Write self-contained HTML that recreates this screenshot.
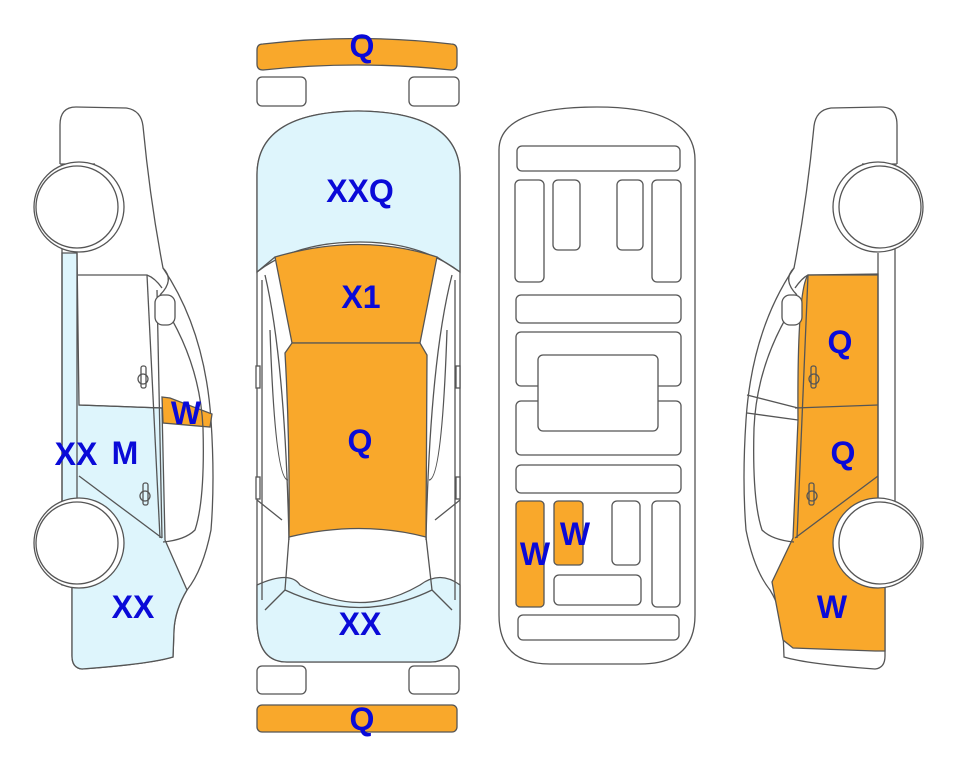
<!DOCTYPE html>
<html><head><meta charset="utf-8"><style>
html,body{margin:0;padding:0;background:#fff;}
svg{display:block;}
text{font-family:"Liberation Sans",sans-serif;font-weight:bold;font-size:32px;fill:#0a0ad8;text-anchor:middle;}
</style></head><body>
<svg width="963" height="768" viewBox="0 0 963 768" xmlns="http://www.w3.org/2000/svg">

<!-- LEFT CAR -->
<g stroke="#555" stroke-width="1.3" fill="none">
  <path d="M60,164 L60,125 Q60,107 76,107 L126,108 Q141,110 143,126 Q150,200 163,268 Q205,330 211,420 Q215,480 211,530 Q203,570 187,590 Q175,610 174,630 L173,657 Q150,664 82,669 Q72,668 72,656 L72,585" fill="#fff"/>
  <path d="M62,253 L77,253 L79,405 L162,408 L165,540 L187,590 Q175,610 174,630 L173,657 Q150,664 82,669 Q72,668 72,656 L72,585 L62,585 Z" fill="#def5fc"/>
  <path d="M162,397 L170,398 L212,414 L210,427 L163,423 Z" fill="#f9a82b"/>
  <line x1="62" y1="164" x2="62" y2="585"/>
  <line x1="77" y1="253" x2="77" y2="503"/>
  <line x1="60" y1="164" x2="95" y2="164"/>
  <path d="M78,275 L147,275 Q155,278 162,288"/>
  <path d="M147,275 L160,538"/>
  <path d="M157,290 L162,538"/>
  <path d="M79,405 L162,408"/>
  <path d="M79,476 L162,538"/>
  <path d="M160,300 Q200,360 203,428 Q205,500 195,530 Q185,540 163,542"/>
  <path d="M163,268 Q175,280 160,295"/>
  <rect x="155" y="295" width="20" height="30" rx="8" fill="#fff"/>
  <rect x="141" y="366" width="5" height="22" rx="2"/><circle cx="143" cy="379" r="5"/>
  <rect x="143" y="483" width="5" height="22" rx="2"/><circle cx="145" cy="496" r="5"/>
  <circle cx="79" cy="207" r="45" fill="#fff"/>
  <circle cx="77" cy="207" r="41" fill="#fff"/>
  <circle cx="79" cy="543" r="45" fill="#fff"/>
  <circle cx="77" cy="543" r="41" fill="#fff"/>
</g>

<!-- RIGHT CAR (mirrored) -->
<g transform="translate(957,0) scale(-1,1)" stroke="#555" stroke-width="1.3" fill="none">
  <path d="M60,164 L60,125 Q60,107 76,107 L126,108 Q141,110 143,126 Q150,200 163,268 Q205,330 211,420 Q215,480 211,530 Q203,570 187,590 Q175,610 174,630 L173,657 Q150,664 82,669 Q72,668 72,656 L72,585" fill="#fff"/>
  <path d="M79,274 L149,275 Q160,290 159,420 L164,538 L185,582 L174,640 L164,648 L82,651 L72,651 L72,585 L79,502 Z" fill="#f9a82b"/>
  <line x1="62" y1="164" x2="62" y2="585"/>
  <line x1="79" y1="253" x2="79" y2="503"/>
  <line x1="60" y1="164" x2="95" y2="164"/>
  <path d="M79,275 L149,275 Q155,278 162,288"/>
  <path d="M149,275 L160,538"/>
  <path d="M79,405 L162,408"/>
  <path d="M79,476 L162,538"/>
  <path d="M160,300 Q200,360 203,428 Q205,500 195,530 Q185,540 163,542"/>
  <path d="M163,268 Q175,280 160,295"/>
  <rect x="155" y="295" width="20" height="30" rx="8" fill="#fff"/>
  <line x1="159" y1="408" x2="210" y2="395"/>
  <line x1="159" y1="420" x2="210" y2="413"/>
  <rect x="141" y="366" width="5" height="22" rx="2"/><circle cx="143" cy="379" r="5"/>
  <rect x="143" y="483" width="5" height="22" rx="2"/><circle cx="145" cy="496" r="5"/>
  <circle cx="79" cy="207" r="45" fill="#fff"/>
  <circle cx="77" cy="207" r="41" fill="#fff"/>
  <circle cx="79" cy="543" r="45" fill="#fff"/>
  <circle cx="77" cy="543" r="41" fill="#fff"/>
</g>

<!-- TOP VIEW -->
<g stroke="#555" stroke-width="1.3">
  <path d="M257,50 Q257,44 263,44 Q357,33 451,44 Q457,44 457,50 L457,64 Q457,70 451,70 Q357,60 263,70 Q257,70 257,64 Z" fill="#f9a82b"/>
  <rect x="257" y="77" width="49" height="29" rx="5" fill="#fff"/>
  <rect x="409" y="77" width="50" height="29" rx="5" fill="#fff"/>
  <path d="M257,175 Q257,112 358,111 Q460,112 460,175 L460,620 Q460,662 430,662 L287,662 Q257,662 257,620 Z" fill="#fff"/>
  <path d="M257,175 Q257,112 358,111 Q460,112 460,175 L460,272 Q420,242 360,242 Q295,242 257,272 Z" fill="#def5fc"/>
  <path d="M275,257 Q360,232 437,257 L420,343 L292,343 Z" fill="#f9a82b"/>
  <path d="M285,353 L292,343 L420,343 L427,355 L426,537 Q360,520 289,537 Q290,440 285,353 Z" fill="#f9a82b"/>
  <path d="M257,585 Q290,570 300,585 Q360,620 420,585 Q440,570 460,585 L460,620 Q460,662 430,662 L287,662 Q257,662 257,620 Z" fill="#def5fc"/>
  <path d="M289,537 L285,590 Q360,625 432,590 L426,537" fill="none"/>
  <g fill="none">
    <path d="M257,272 L275,257"/><path d="M460,272 L437,257"/>
    <path d="M265,275 Q285,360 289,540"/><path d="M452,275 Q430,360 426,540"/>
    <path d="M262,280 L262,600"/><path d="M455,280 L455,600"/>
    <path d="M270,330 Q275,480 288,480"/><path d="M447,330 Q442,480 429,480"/>
    <path d="M257,500 L282,520"/><path d="M460,500 L435,520"/>
    <path d="M285,590 L265,610"/><path d="M432,590 L452,610"/>
  </g>
  <rect x="256" y="366" width="4" height="22" fill="#fff"/>
  <rect x="456" y="366" width="4" height="22" fill="#fff"/>
  <rect x="256" y="477" width="4" height="22" fill="#fff"/>
  <rect x="456" y="477" width="4" height="22" fill="#fff"/>
  <rect x="257" y="666" width="49" height="28" rx="5" fill="#fff"/>
  <rect x="409" y="666" width="50" height="28" rx="5" fill="#fff"/>
  <rect x="257" y="705" width="200" height="27" rx="5" fill="#f9a82b"/>
</g>

<!-- BOTTOM VIEW -->
<g stroke="#555" stroke-width="1.3" fill="#fff">
  <path d="M499,150 Q499,107 597,107 Q695,107 695,160 L695,615 Q695,664 640,664 L550,664 Q499,664 499,615 Z"/>
  <rect x="517" y="146" width="163" height="25" rx="5"/>
  <rect x="515" y="180" width="29" height="102" rx="5"/>
  <rect x="553" y="180" width="27" height="70" rx="5"/>
  <rect x="617" y="180" width="26" height="70" rx="5"/>
  <rect x="652" y="180" width="29" height="102" rx="5"/>
  <rect x="516" y="295" width="165" height="28" rx="5"/>
  <rect x="516" y="332" width="165" height="54" rx="5"/>
  <rect x="516" y="401" width="165" height="54" rx="5"/>
  <rect x="538" y="355" width="120" height="76" rx="5"/>
  <rect x="516" y="465" width="165" height="28" rx="5"/>
  <rect x="516" y="501" width="28" height="106" rx="4" fill="#f9a82b"/>
  <rect x="554" y="501" width="29" height="64" rx="4" fill="#f9a82b"/>
  <rect x="612" y="501" width="28" height="64" rx="5"/>
  <rect x="652" y="501" width="28" height="106" rx="5"/>
  <rect x="554" y="575" width="87" height="30" rx="5"/>
  <rect x="518" y="615" width="161" height="25" rx="5"/>
</g>

<!-- LABELS -->
<text x="362" y="57">Q</text>
<text x="360" y="202">XXQ</text>
<text x="361" y="308">X1</text>
<text x="360" y="452">Q</text>
<text x="360" y="635">XX</text>
<text x="362" y="730">Q</text>
<text x="76" y="465">XX</text>
<text x="125" y="464">M</text>
<text x="186" y="424">W</text>
<text x="133" y="618">XX</text>
<text x="535" y="565">W</text>
<text x="575" y="545">W</text>
<text x="840" y="353">Q</text>
<text x="843" y="464">Q</text>
<text x="832" y="618">W</text>
</svg>
</body></html>
